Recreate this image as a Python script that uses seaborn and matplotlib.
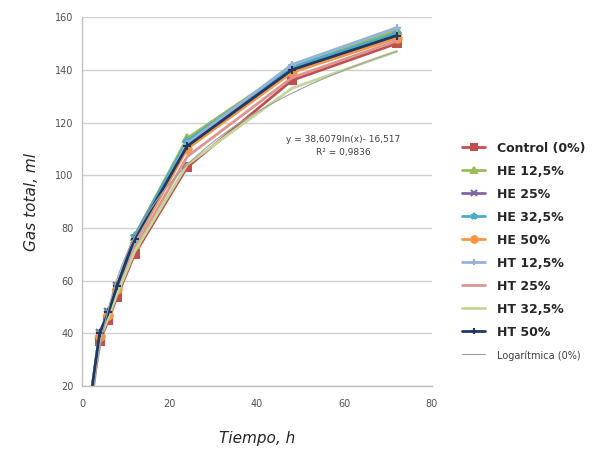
import matplotlib
matplotlib.use("Agg")
import matplotlib.pyplot as plt
import numpy as np
import pandas as pd
import seaborn as sns

# == DATA ==
tiempo = [2, 4, 6, 8, 12, 24, 48, 72]

control = [14, 37, 45, 54, 70, 103, 136, 150]
he_125 = [16, 40, 48, 58, 77, 114, 141, 155]
he_25 = [16, 40, 48, 58, 76, 112, 140, 153]
he_325 = [16, 40, 48, 58, 77, 113, 141, 154]
he_50 = [15, 39, 47, 57, 74, 110, 139, 152]
ht_125 = [16, 40, 48, 58, 75, 112, 142, 156]
ht_25 = [15, 38, 46, 56, 72, 107, 137, 151]
ht_325 = [15, 38, 46, 55, 71, 104, 133, 147]
ht_50 = [16, 40, 48, 58, 76, 111, 140, 153]

series_names = ["Control (0%)", "HE 12,5%", "HE 25%", "HE 32,5%", "HE 50%",
                "HT 12,5%", "HT 25%", "HT 32,5%", "HT 50%"]
series_values = [control, he_125, he_25, he_325, he_50, ht_125, ht_25, ht_325, ht_50]
series_colors = ["#C0504D", "#9BBB59", "#8064A2", "#4BACC6", "#F79646",
                 "#95B3D7", "#D99694", "#C3D69B", "#1F3864"]
series_markers = ["s", "^", "x", "*", "o", "+", None, None, "+"]

trend_label = "Logarítmica (0%)"
trend_text = "y = 38,6079ln(x)- 16,517\nR² = 0,9836"


def main() -> None:
    sns.set_style("white")
    plt.rcParams["font.family"] = ["DejaVu Sans"]

    fig, ax = plt.subplots(figsize=(6.04, 4.49), dpi=100)
    fig.subplots_adjust(left=0.136, right=0.715, top=0.962, bottom=0.14)

    ax.yaxis.grid(True, color="#D0D0D0", linewidth=1.0)
    ax.set_axisbelow(True)

    for name, vals, color, mk in zip(series_names, series_values, series_colors, series_markers):
        df = pd.DataFrame({"t": tiempo, "gas": vals})
        sns.lineplot(
            data=df, x="t", y="gas", ax=ax, color=color, linewidth=2.0,
            marker=mk if mk else None, markersize=6, markeredgecolor=color,
            markeredgewidth=1.5, label=name, errorbar=None,
        )

    # logarithmic trendline of the control series
    sns.regplot(x=np.array(tiempo), y=np.array(control), logx=True, scatter=False,
                ci=None, ax=ax, color="#A0A0A0", label=trend_label,
                line_kws={"linewidth": 0.8})

    ax.text(59.7, 111, trend_text, ha="center", va="center", fontsize=6.5,
            color="#404040", linespacing=1.6)

    ax.set_xlim(0, 80)
    ax.set_ylim(20, 160)
    ax.set_xticks(range(0, 81, 20))
    ax.set_yticks(range(20, 161, 20))
    ax.tick_params(axis="both", labelsize=7, colors="#505050", length=0, pad=6)
    ax.tick_params(axis="x", length=3, color="#BFBFBF")

    for side in ["top", "right"]:
        ax.spines[side].set_visible(False)
    for side in ["left", "bottom"]:
        ax.spines[side].set_color("#BFBFBF")
        ax.spines[side].set_linewidth(1.0)

    ax.set_xlabel("Tiempo, h", fontsize=11, fontstyle="italic", color="#262626", labelpad=16)
    ax.set_ylabel("Gas total, ml", fontsize=11, fontstyle="italic", color="#262626", labelpad=12)

    handles, labels = ax.get_legend_handles_labels()
    leg = ax.legend(handles, labels, loc="center left", bbox_to_anchor=(1.05, 0.365),
                    frameon=False, handlelength=1.7, labelspacing=0.72,
                    handletextpad=0.8, markerscale=0.8)
    texts = leg.get_texts()
    for txt in texts[:-1]:
        txt.set_fontsize(9)
        txt.set_fontweight("bold")
        txt.set_color("#262626")
    texts[-1].set_fontsize(7)
    texts[-1].set_color("#404040")

    fig.savefig("out.png", dpi=100)
    plt.close(fig)


if __name__ == "__main__":
    main()
